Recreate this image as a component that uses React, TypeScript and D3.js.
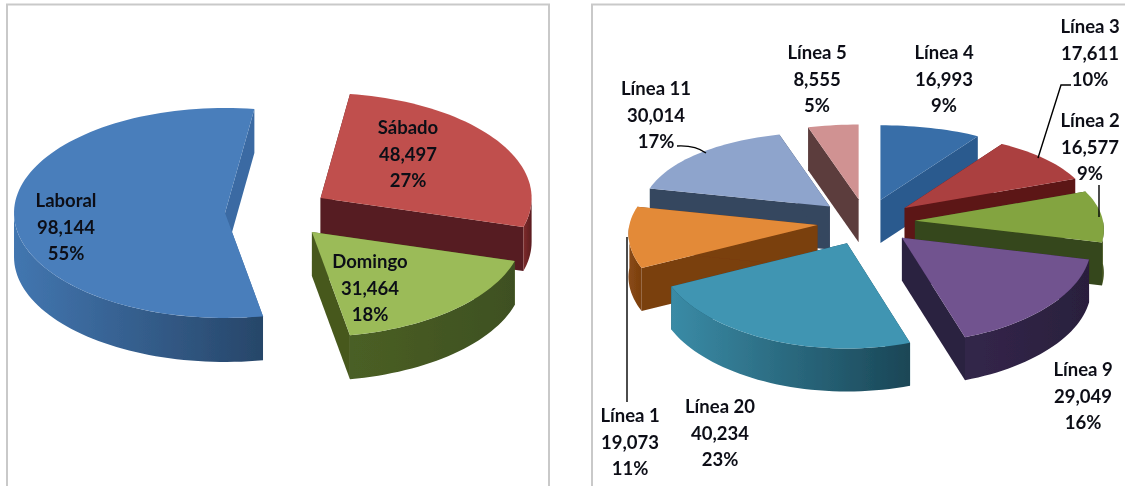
import React from "react";
import * as d3 from "d3";

// ---- data ----
const dayNames = ["Sábado", "Domingo", "Laboral"];
const dayValues = [48497, 31464, 98144];
const dayPercents = ["27%", "18%", "55%"];

const lineNames = ["Línea 4", "Línea 3", "Línea 2", "Línea 9", "Línea 20", "Línea 1", "Línea 11", "Línea 5"];
const lineValues = [16993, 17611, 16577, 29049, 40234, 19073, 30014, 8555];
const linePercents = ["9%", "10%", "9%", "16%", "23%", "11%", "17%", "5%"];

// ---- styles and layout ----
const dayStyles = [
  { top: "#c0504d", wall: "#571c20", outer: ["#7d2b2b", "#5a1c20"] },
  { top: "#9bbb59", wall: "#47591f", outer: ["#4a5f25", "#3e5020"] },
  { top: "#4a7ebb", wall: "#3a6ba3", outer: ["#4276b0", "#274669"] },
];
const lineStyles = [
  { top: "#376ea8", wall: "#2b5a8e", outer: ["#2b5a8e", "#2b5a8e"] },
  { top: "#ab3f3f", wall: "#5c1518", outer: ["#5c1518", "#5c1518"] },
  { top: "#83a441", wall: "#36461a", outer: ["#46581f", "#36461a"] },
  { top: "#71528f", wall: "#2c2141", outer: ["#33264a", "#2a1f3d"] },
  { top: "#3f95b2", wall: "#1c4d5f", outer: ["#3a8ba6", "#1a4656"] },
  { top: "#e38a38", wall: "#7a3f0f", outer: ["#8a4a14", "#7a3f0f"] },
  { top: "#8ea4cc", wall: "#36465f", outer: ["#3a4a66", "#36465f"] },
  { top: "#d09292", wall: "#5c3c3c", outer: ["#5c3c3c", "#5c3c3c"] },
];
const dayLabelPos: [number, number][] = [[408, 128], [370, 262], [66, 201]];
const lineLabelPos: [number, number][] = [
  [944, 53], [1090, 27], [1090, 121], [1083, 370], [720, 407], [630, 416], [656, 89], [817, 53],
];
const dayGeom = { cx: 277, cy: 212.4, ex: 52, ey: 26.4, rx: 211, ry: 105, kx: 0, ky: 0, depth: 44, start: 8, lh: 26.5 };
const lineGeom = { cx: 866, cy: 222, ex: 49, ey: 23, rx: 188, ry: 90, kx: 0.1, ky: 0.17, depth: 43, start: 0, lh: 26.5 };

type Geom = typeof dayGeom;
const rad = Math.PI / 180;

function Pie({ id, names, values, percents, styles, labelPos, g }: {
  id: string; names: string[]; values: number[]; percents: string[];
  styles: { top: string; wall: string; outer: string[] }[];
  labelPos: [number, number][]; g: Geom;
}) {
  const arcs = d3.pie<number>().sort(null).startAngle(g.start * rad).endAngle((g.start + 360) * rad)(values);
  const line = d3.line();
  const marks = arcs.map((a, i) => {
    const mid = (a.startAngle + a.endAngle) / 2;
    const ax = g.cx + g.ex * Math.sin(mid);
    const ay = g.cy - g.ey * Math.cos(mid);
    const P = (t: number, dy = 0): [number, number] => {
      const c = Math.cos(t);
      return [ax + g.rx * (1 - g.kx * c) * Math.sin(t), ay - g.ry * (1 - g.ky * c) * c + dy];
    };
    const sample = (t0: number, t1: number) => {
      const n = Math.max(2, Math.ceil((t1 - t0) / (2 * rad)));
      return d3.range(n + 1).map((k) => t0 + ((t1 - t0) * k) / n);
    };
    const top = line([[ax, ay], ...sample(a.startAngle, a.endAngle).map((t) => P(t))])! + "Z";
    const wallAt = (t: number) =>
      line([[ax, ay], P(t), P(t, g.depth), [ax, ay + g.depth]])! + "Z";
    const o0 = Math.max(a.startAngle, 90 * rad);
    const o1 = Math.min(a.endAngle, 270 * rad);
    let outer: string | null = null;
    let ox0 = 0, ox1 = 1;
    if (o1 > o0) {
      const ts = sample(o0, o1);
      const ptsTop = ts.map((t) => P(t));
      const ptsBot = ts.map((t) => P(t, g.depth)).reverse();
      outer = line([...ptsTop, ...ptsBot])! + "Z";
      const xs = ptsTop.map((p) => p[0]);
      ox0 = d3.min(xs)!;
      ox1 = d3.max(xs)!;
    }
    return { i, mid, top, w0: wallAt(a.startAngle), w1: wallAt(a.endAngle), outer, ox0, ox1 };
  });
  const order = [...marks].sort((p, q) => Math.cos(q.mid) - Math.cos(p.mid));
  const fmt = d3.format(",");
  return (
    <g>
      <defs>
        {marks.map((m) => (
          <linearGradient key={m.i} id={`${id}-o${m.i}`} gradientUnits="userSpaceOnUse" x1={m.ox0} x2={m.ox1} y1={0} y2={0}>
            <stop offset="0%" stopColor={styles[m.i].outer[0]} />
            <stop offset="100%" stopColor={styles[m.i].outer[1]} />
          </linearGradient>
        ))}
      </defs>
      {order.map((m) => (
        <g key={m.i}>
          <path d={m.w0} fill={styles[m.i].wall} />
          <path d={m.w1} fill={styles[m.i].wall} />
          {m.outer && <path d={m.outer} fill={`url(#${id}-o${m.i})`} />}
          <path d={m.top} fill={styles[m.i].top} />
        </g>
      ))}
      {names.map((n, i) => (
        <text key={n} x={labelPos[i][0]} y={labelPos[i][1] + 6} textAnchor="middle"
          fontFamily="Lato, sans-serif" fontSize={18.5} fontWeight={700} fill="#0c1118">
          {[n, fmt(values[i]), percents[i]].map((s, k) => (
            <tspan key={k} x={labelPos[i][0]} y={labelPos[i][1] + 6 + k * g.lh}>{s}</tspan>
          ))}
        </text>
      ))}
    </g>
  );
}

export default function App() {
  return (
    <svg width={1125} height={486} style={{ position: "absolute", left: 0, top: 0, background: "#fff" }}>
      <defs>
        <filter id="soft" x="-2%" y="-2%" width="104%" height="104%">
          <feGaussianBlur stdDeviation="0.75" />
        </filter>
      </defs>
      <g filter="url(#soft)">
        <path d="M7 486V4.5H549V486" fill="none" stroke="#c9c9c9" strokeWidth={2} />
        <path d="M592 486V4.5H1125" fill="none" stroke="#c9c9c9" strokeWidth={2} />
        <Pie id="d" names={dayNames} values={dayValues} percents={dayPercents} styles={dayStyles} labelPos={dayLabelPos} g={dayGeom} />
        <Pie id="l" names={lineNames} values={lineValues} percents={linePercents} styles={lineStyles} labelPos={lineLabelPos} g={lineGeom} />
        <g fill="none" stroke="#000" strokeWidth={1.4}>
          <path d="M1038 158L1061 85H1071" />
          <path d="M1099 185V217" />
          <path d="M677 146Q695 145 706 153" />
          <path d="M627 237V402" />
        </g>
      </g>
    </svg>
  );
}
